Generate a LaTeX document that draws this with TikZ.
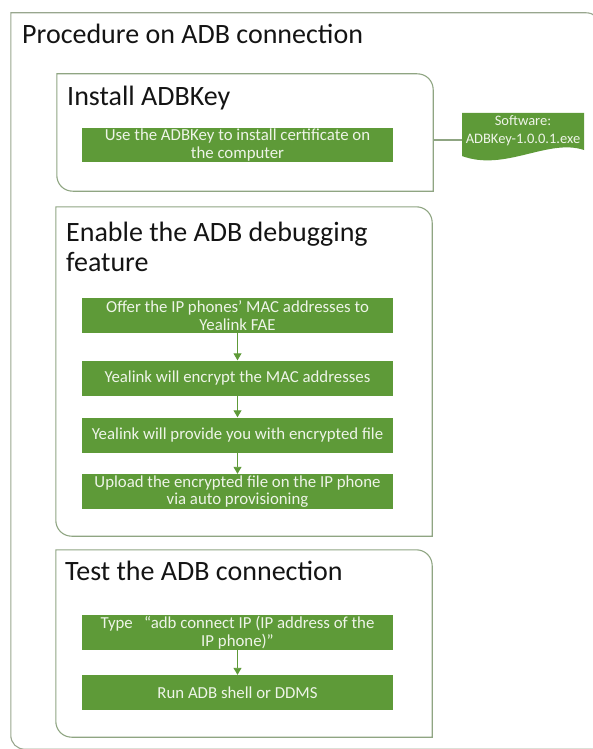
\documentclass[tikz,border=0pt]{standalone}
\usepackage{fontspec}
\setmainfont{Carlito}
\usetikzlibrary{arrows.meta,calc}
\definecolor{boxgreen}{HTML}{5E9A38}
\definecolor{framecol}{HTML}{8FA582}
\definecolor{outercol}{HTML}{98A68E}
\definecolor{txtwhite}{HTML}{EEF4E8}
\definecolor{titlecol}{HTML}{141414}
\newcommand\diagframe[4]{%
  \draw[#4] (#1.north west) -- ([xshift=-#2]#1.north east)
    .. controls ([xshift=-#3]#1.north east) and ([yshift=-#3]#1.north east) .. ([yshift=-#2]#1.north east)
    -- (#1.south east) -- ([xshift=#2]#1.south west)
    .. controls ([xshift=#3]#1.south west) and ([yshift=#3]#1.south west) .. ([yshift=#2]#1.south west)
    -- cycle;}
\begin{document}
\begin{tikzpicture}[x=1pt,y=-1pt,
  framebox/.style={draw=none,inner sep=0pt,minimum width=376pt},
  framestroke/.style={draw=framecol,line width=1.1pt},
  outerstroke/.style={draw=outercol,line width=1.1pt},
  greenbox/.style={fill=boxgreen,text=txtwhite,minimum width=311pt,minimum height=35pt,inner sep=0pt,align=center,font=\fontsize{16.8}{17.5}\selectfont},
  titletext/.style={anchor=base west,inner sep=0pt,text=titlecol,align=left,font=\fontsize{28}{30}\selectfont},
  flowarrow/.style={draw=boxgreen,line width=0.9pt,-{Triangle[width=8pt,length=7pt]}},
  docline/.style={draw=framecol,line width=1.1pt},
  doctext/.style={text=txtwhite,align=center,inner sep=0pt,font=\fontsize{14.5}{18}\selectfont}
]
\useasboundingbox (0,0) rectangle (592,749);
% outer frame
\node[draw=none,inner sep=0pt,minimum width=589pt,minimum height=736pt] (outer) at (305.5,381) {};
\diagframe{outer}{14pt}{6pt}{outerstroke}
\node[titletext] (outertitle) at (22,44) {Procedure on ADB connection};
% frame 1
\node[framebox,minimum height=117pt] (f1) at (245,132.5) {};
\diagframe{f1}{16pt}{7pt}{framestroke}
\node[titletext] (t1) at (67,106) {Install ADBKey};
\node[greenbox,minimum height=34pt] (g0) at (237.5,145) {Use the ADBKey to install certificate on\\the computer};
% document shape
\fill[boxgreen] (462,113) -- (584,113) -- (584,150) .. controls (548,138) and (505,172) .. (462,156) -- cycle;
\node[doctext] (doc) at (523,131) {Software:\\ADBKey-1.0.0.1.exe};
\coordinate (docin) at (462,140);
\draw[docline] (f1.east |- docin) -- (docin);
% frame 2
\node[framebox,minimum height=329pt] (f2) at (244,371.5) {};
\diagframe{f2}{16pt}{7pt}{framestroke}
\node[titletext] (t2) at (66,271) {Enable the ADB debugging\\feature};
\node[greenbox] (g1) at (237.5,315.5) {Offer the IP phones’ MAC addresses to\\Yealink FAE};
\node[greenbox] (g2) at (237.5,378) {Yealink will encrypt the MAC addresses};
\node[greenbox] (g3) at (237.5,435) {Yealink will provide you with encrypted file};
\node[greenbox] (g4) at (237.5,491.5) {Upload the encrypted file on the IP phone\\via auto provisioning};
\draw[flowarrow] (g1) -- (g2);
\draw[flowarrow] (g2) -- (g3);
\draw[flowarrow] (g3) -- (g4);
% frame 3
\node[framebox,minimum height=187pt] (f3) at (244,643.5) {};
\diagframe{f3}{16pt}{7pt}{framestroke}
\node[titletext] (t3) at (65,580) {Test the ADB connection};
\node[greenbox] (g5) at (237.5,632.5) {Type\ \ \ “adb connect IP (IP address of the\\IP phone)”};
\node[greenbox] (g6) at (237.5,692.5) {Run ADB shell or DDMS};
\draw[flowarrow] (g5) -- (g6);
\end{tikzpicture}
\end{document}
